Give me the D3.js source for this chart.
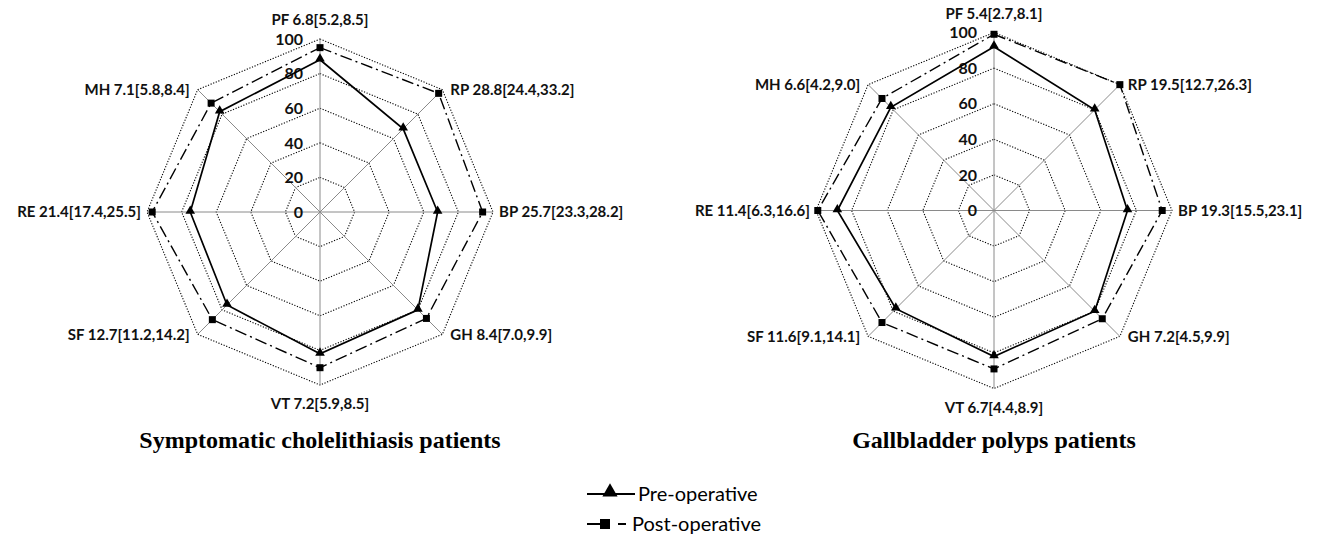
<!DOCTYPE html>
<html><head><meta charset="utf-8">
<script src="https://cdn.jsdelivr.net/npm/d3@7"></script>
<style>body{margin:0;background:#fff}svg{display:block}</style>
</head><body>
<svg id="chart" width="1320" height="547"></svg>
<script>
const dimensions = ["PF","RP","BP","GH","VT","SF","RE","MH"];
const ticks = [0,20,40,60,80,100];
const leftLabels = ["PF 6.8[5.2,8.5]","RP 28.8[24.4,33.2]","BP 25.7[23.3,28.2]","GH 8.4[7.0,9.9]","VT 7.2[5.9,8.5]","SF 12.7[11.2,14.2]","RE 21.4[17.4,25.5]","MH 7.1[5.8,8.4]"];
const leftPre  = [88,68,68,80,82,76,75,82];
const leftPost = [95,97,94,87,90,88,97,89];
const rightLabels = ["PF 5.4[2.7,8.1]","RP 19.5[12.7,26.3]","BP 19.3[15.5,23.1]","GH 7.2[4.5,9.9]","VT 6.7[4.4,8.9]","SF 11.6[9.1,14.1]","RE 11.4[6.3,16.6]","MH 6.6[4.2,9.0]"];
const rightPre  = [92,80,75,80,82,78,88,82];
const rightPost = [99,100,94.5,86,89,89,99,89];
const titles = ["Symptomatic cholelithiasis patients","Gallbladder polyps patients"];
const seriesNames = ["Pre-operative","Post-operative"];

const svg = d3.select("#chart");
const sansB = "Lato, 'Open Sans', sans-serif";

function radar(cx, cy, R, labels, pre, post, title) {
  const g = svg.append("g");
  const r = d3.scaleLinear().domain([0,100]).range([0,R]);
  const ang = d3.scalePoint().domain(dimensions).range([0, 2*Math.PI*7/8]);
  const pt = (d, v) => [cx + r(v)*Math.sin(ang(d)), cy - r(v)*Math.cos(ang(d))];
  // rings
  ticks.filter(t=>t>0).forEach(t=>{
    g.append("path")
      .attr("d", d3.line()(dimensions.map(d=>pt(d,t))) + "Z")
      .attr("fill","none").attr("stroke","#000").attr("stroke-width",1.1)
      .attr("stroke-dasharray","1.2,1.6");
  });
  // spokes
  dimensions.forEach(d=>{
    const p = pt(d,100);
    g.append("line").attr("x1",cx).attr("y1",cy).attr("x2",p[0]).attr("y2",p[1])
      .attr("stroke","#8a8a8a").attr("stroke-width",1);
  });
  // tick labels
  ticks.forEach(t=>{
    g.append("text").attr("x",cx-17).attr("y",cy - r(t)).attr("dy","0.36em")
      .attr("text-anchor","end").attr("font-family",sansB).attr("font-weight","bold")
      .attr("font-size",16).attr("fill","#111").text(t);
  });
  // series
  const line = d3.line().curve(d3.curveLinearClosed);
  g.append("path").attr("d", line(dimensions.map((d,i)=>pt(d,post[i]))))
    .attr("fill","none").attr("stroke","#000").attr("stroke-width",1.4)
    .attr("stroke-dasharray","12,4,2,4");
  g.append("path").attr("d", line(dimensions.map((d,i)=>pt(d,pre[i]))))
    .attr("fill","none").attr("stroke","#000").attr("stroke-width",1.7);
  const tri = d3.symbol().type(d3.symbolTriangle).size(40);
  dimensions.forEach((d,i)=>{
    const p = pt(d,pre[i]);
    g.append("path").attr("d",tri()).attr("transform",`translate(${p[0]},${p[1]-1})`).attr("fill","#000");
    const q = pt(d,post[i]);
    g.append("rect").attr("x",q[0]-3.5).attr("y",q[1]-3.5).attr("width",7).attr("height",7).attr("fill","#000");
  });
  // axis labels
  dimensions.forEach((d,i)=>{
    const a = ang(d);
    const p = pt(d,100);
    const s = Math.sin(a), c = Math.cos(a);
    let x = p[0], y = p[1], anchor = "middle";
    if (Math.abs(s) < 0.01) { y += c > 0 ? -19 : 19; }
    else { anchor = s > 0 ? "start" : "end"; x += (Math.abs(c) < 0.01 ? 6 : 8) * Math.sign(s); }
    g.append("text").attr("x",x).attr("y",y).attr("dy","0.35em").attr("text-anchor",anchor)
      .attr("font-family",sansB).attr("font-weight","bold").attr("font-size",15)
      .attr("fill","#111").text(labels[i]);
  });
  g.append("text").attr("x",cx).attr("y",440).attr("dy","0.35em").attr("text-anchor","middle")
    .attr("font-family","'Liberation Serif','Times New Roman',serif").attr("font-weight","bold")
    .attr("font-size",24).attr("fill","#000").text(title);
}

radar(320, 212, 173, leftLabels, leftPre, leftPost, titles[0]);
radar(994, 210.5, 178, rightLabels, rightPre, rightPost, titles[1]);

// legend
const lg = svg.append("g");
lg.append("line").attr("x1",587).attr("x2",635).attr("y1",494).attr("y2",494).attr("stroke","#000").attr("stroke-width",2);
lg.append("path").attr("d",d3.symbol().type(d3.symbolTriangle).size(100)()).attr("transform","translate(610,492)").attr("fill","#000");
lg.append("text").attr("x",638).attr("y",494).attr("dy","0.35em").attr("font-family","Lato, sans-serif")
  .attr("font-size",20).attr("fill","#000").text(seriesNames[0]);
lg.append("line").attr("x1",587).attr("x2",605).attr("y1",524).attr("y2",524).attr("stroke","#000").attr("stroke-width",2);
lg.append("rect").attr("x",600).attr("y",519).attr("width",10).attr("height",10).attr("fill","#000");
lg.append("line").attr("x1",618).attr("x2",626).attr("y1",524).attr("y2",524).attr("stroke","#000").attr("stroke-width",2);
lg.append("text").attr("x",632).attr("y",524).attr("dy","0.35em").attr("font-family","Lato, sans-serif")
  .attr("font-size",20).attr("fill","#000").text(seriesNames[1]);
</script>
</body></html>
